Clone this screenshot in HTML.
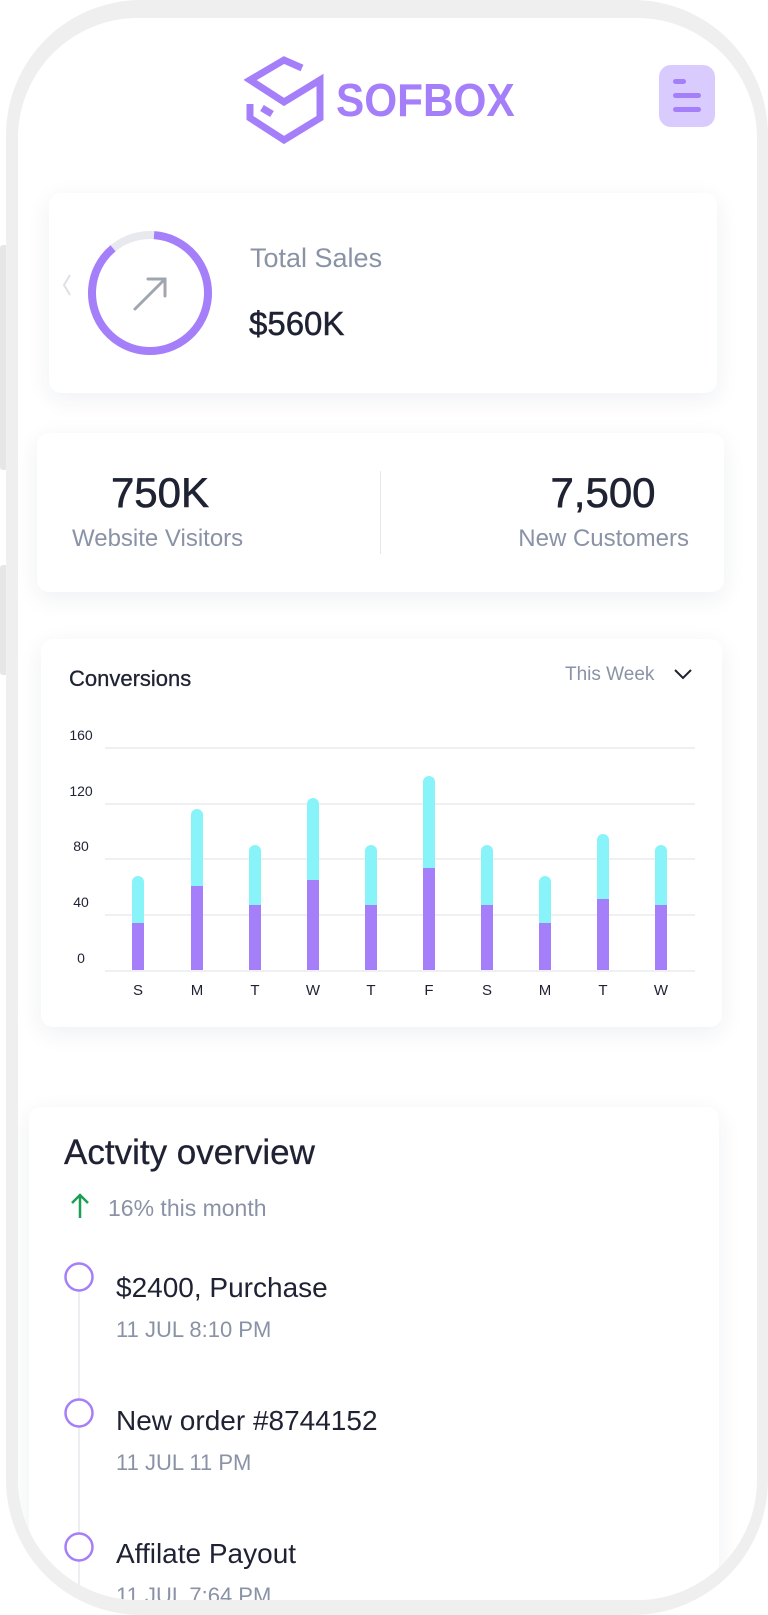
<!DOCTYPE html>
<html><head><meta charset="utf-8"><style>
*{margin:0;padding:0;box-sizing:border-box}
body{width:768px;height:1615px;background:#fff;position:relative;overflow:hidden;font-family:"Liberation Sans",sans-serif}
.abs{position:absolute}
.frame{left:6px;top:0;width:762px;height:1615px;background:#efefef;border-radius:135px}
.screen{left:18px;top:18px;width:739px;height:1582px;background:#fff;border-radius:120px;overflow:hidden}
.card{position:absolute;background:#fff;border-radius:12px;box-shadow:0 6px 24px rgba(30,40,80,0.07)}
.t{position:absolute;white-space:nowrap}
.btn{background:#e6e6e6}
</style></head><body>
<div class="abs btn" style="left:0;top:245px;width:8px;height:225px;border-radius:3px"></div>
<div class="abs btn" style="left:0;top:565px;width:8px;height:110px;border-radius:3px"></div>
<div class="abs btn" style="left:760px;top:478px;width:8px;height:90px;border-radius:3px"></div>
<div class="abs frame"></div>
<div class="abs screen">
  <!-- activity (coords relative to screen: -18,-18) -->
  <div class="card" style="left:11px;top:1089px;width:690px;height:520px"></div>
  <div class="t" style="left:46px;top:1115px;font-size:35px;color:#1e2233;-webkit-text-stroke:0.3px #1e2233">Actvity overview</div>
  <svg class="abs" style="left:52px;top:1174px" width="20" height="28"><path d="M10 26 V3 M2 11 L10 3 L18 11" fill="none" stroke="#1aa053" stroke-width="2.5"/></svg>
  <div class="t" style="left:90px;top:1177px;font-size:23px;color:#8a92a6">16% this month</div>
  <div class="abs" style="left:60px;top:1272px;width:2px;height:320px;background:#eceef2"></div>
  <svg class="abs" style="left:44px;top:1242px" width="34" height="310">
  <circle cx="17" cy="17" r="13.5" fill="#fff" stroke="#a57ffa" stroke-width="2.5"/>
  <circle cx="17" cy="153" r="13.5" fill="#fff" stroke="#a57ffa" stroke-width="2.5"/>
  <circle cx="17" cy="287" r="13.5" fill="#fff" stroke="#a57ffa" stroke-width="2.5"/>
  </svg>
  <div class="t" style="left:98px;top:1254px;font-size:28px;color:#1e2233">$2400, Purchase</div>
  <div class="t" style="left:98px;top:1299px;font-size:22px;color:#8a92a6">11 JUL 8:10 PM</div>
  <div class="t" style="left:98px;top:1387px;font-size:28px;color:#1e2233">New order #8744152</div>
  <div class="t" style="left:98px;top:1432px;font-size:22px;color:#8a92a6">11 JUL 11 PM</div>
  <div class="t" style="left:98px;top:1520px;font-size:28px;color:#1e2233">Affilate Payout</div>
  <div class="t" style="left:98px;top:1565px;font-size:22px;color:#8a92a6">11 JUL 7:64 PM</div>
</div>

<!-- logo -->
<svg class="abs" style="left:244px;top:56px" width="84" height="90" viewBox="0 0 84 90" fill="none" stroke="#a57ffa" stroke-width="7" stroke-linejoin="miter">
<path d="M58 12 L40 4 L6 24 L40 46 L76 24 L76 62 L40 84 L6 62 L6 48"/>
<path d="M18 52 L28 58"/>
</svg>
<div class="t" style="left:336px;top:73px;font-size:46px;font-weight:bold;color:#a57ffa;letter-spacing:0px;transform:scaleX(0.92);transform-origin:left">SOFBOX</div>
<div class="abs" style="left:659px;top:65px;width:56px;height:62px;background:#d9cbfd;border-radius:12px"></div>
<div class="abs" style="left:673px;top:79px;width:13px;height:5px;background:#a57ffa;border-radius:3px"></div>
<div class="abs" style="left:673px;top:93px;width:28px;height:5px;background:#a57ffa;border-radius:3px"></div>
<div class="abs" style="left:673px;top:107px;width:28px;height:5px;background:#a57ffa;border-radius:3px"></div>

<!-- card1 -->
<div class="card" style="left:49px;top:193px;width:668px;height:200px"></div>
<svg class="abs" style="left:60px;top:225px" width="160" height="140" viewBox="0 0 160 140">
<path d="M10 50 L4 60 L10 70" fill="none" stroke="#dde0e6" stroke-width="2"/>
<circle cx="90" cy="68" r="58" fill="none" stroke="#e8e9ee" stroke-width="8"/>
<circle cx="90" cy="68" r="58" fill="none" stroke="#a57ffa" stroke-width="8" stroke-dasharray="320 400" transform="rotate(-90 90 68) rotate(4 90 68)"/>
<path d="M75 84 L104 55 M88 54 L105 54 L105 71" fill="none" stroke="#a0a6ad" stroke-width="3" stroke-linecap="round"/>
</svg>
<div class="t" style="left:250px;top:243px;font-size:27px;color:#8a92a6">Total Sales</div>
<div class="t" style="left:249px;top:305px;font-size:33px;color:#1e2233;-webkit-text-stroke:0.5px #1e2233">$560K</div>

<!-- card2 -->
<div class="card" style="left:37px;top:433px;width:687px;height:159px"></div>
<div class="t" style="left:60px;width:200px;text-align:center;top:469px;font-size:42px;color:#1e2233;-webkit-text-stroke:0.6px #1e2233">750K</div>
<div class="t" style="left:72px;top:525px;font-size:24px;color:#8a92a6">Website Visitors</div>
<div class="abs" style="left:380px;top:471px;width:1px;height:83px;background:#e6e7ec"></div>
<div class="t" style="left:503px;width:200px;text-align:center;top:469px;font-size:42px;color:#1e2233;-webkit-text-stroke:0.6px #1e2233">7,500</div>
<div class="t" style="right:79px;top:525px;font-size:24px;color:#8a92a6">New Customers</div>

<!-- chart card -->
<div class="card" style="left:41px;top:639px;width:681px;height:388px"></div>
<div class="t" style="left:69px;top:666px;font-size:22px;color:#1e2233;-webkit-text-stroke:0.3px #1e2233">Conversions</div>
<div class="t" style="left:565px;top:664px;font-size:19px;color:#8a92a6">This Week</div>
<svg class="abs" style="left:672px;top:667px" width="22" height="16"><path d="M3 3 L11 11 L19 3" fill="none" stroke="#1e2233" stroke-width="2"/></svg>
<svg class="abs" style="left:0;top:0" width="768" height="1040">
<g stroke="#eef0f4" stroke-width="2">
<line x1="105" y1="748" x2="695" y2="748"/><line x1="105" y1="804" x2="695" y2="804"/>
<line x1="105" y1="859" x2="695" y2="859"/><line x1="105" y1="915" x2="695" y2="915"/>
<line x1="105" y1="971" x2="695" y2="971"/>
</g>
<g font-family="Liberation Sans" font-size="14" fill="#1e2233" text-anchor="middle">
<text x="81" y="740">160</text><text x="81" y="796">120</text><text x="81" y="851">80</text><text x="81" y="907">40</text><text x="81" y="963">0</text>
</g>
<g font-family="Liberation Sans" font-size="15" fill="#1e2233" text-anchor="middle">
<text x="138" y="995">S</text><text x="197" y="995">M</text><text x="255" y="995">T</text><text x="313" y="995">W</text><text x="371" y="995">T</text><text x="429" y="995">F</text><text x="487" y="995">S</text><text x="545" y="995">M</text><text x="603" y="995">T</text><text x="661" y="995">W</text>
</g>
<g>
<path d="M132 970 V882 a6 6 0 0 1 12 0 V970Z" fill="#88f3f8"/><rect x="132" y="923" width="12" height="47" fill="#a57ffa"/>
<path d="M191 970 V815 a6 6 0 0 1 12 0 V970Z" fill="#88f3f8"/><rect x="191" y="886" width="12" height="84" fill="#a57ffa"/>
<path d="M249 970 V851 a6 6 0 0 1 12 0 V970Z" fill="#88f3f8"/><rect x="249" y="905" width="12" height="65" fill="#a57ffa"/>
<path d="M307 970 V804 a6 6 0 0 1 12 0 V970Z" fill="#88f3f8"/><rect x="307" y="880" width="12" height="90" fill="#a57ffa"/>
<path d="M365 970 V851 a6 6 0 0 1 12 0 V970Z" fill="#88f3f8"/><rect x="365" y="905" width="12" height="65" fill="#a57ffa"/>
<path d="M423 970 V782 a6 6 0 0 1 12 0 V970Z" fill="#88f3f8"/><rect x="423" y="868" width="12" height="102" fill="#a57ffa"/>
<path d="M481 970 V851 a6 6 0 0 1 12 0 V970Z" fill="#88f3f8"/><rect x="481" y="905" width="12" height="65" fill="#a57ffa"/>
<path d="M539 970 V882 a6 6 0 0 1 12 0 V970Z" fill="#88f3f8"/><rect x="539" y="923" width="12" height="47" fill="#a57ffa"/>
<path d="M597 970 V840 a6 6 0 0 1 12 0 V970Z" fill="#88f3f8"/><rect x="597" y="899" width="12" height="71" fill="#a57ffa"/>
<path d="M655 970 V851 a6 6 0 0 1 12 0 V970Z" fill="#88f3f8"/><rect x="655" y="905" width="12" height="65" fill="#a57ffa"/>
</g>
</svg>
</body></html>
